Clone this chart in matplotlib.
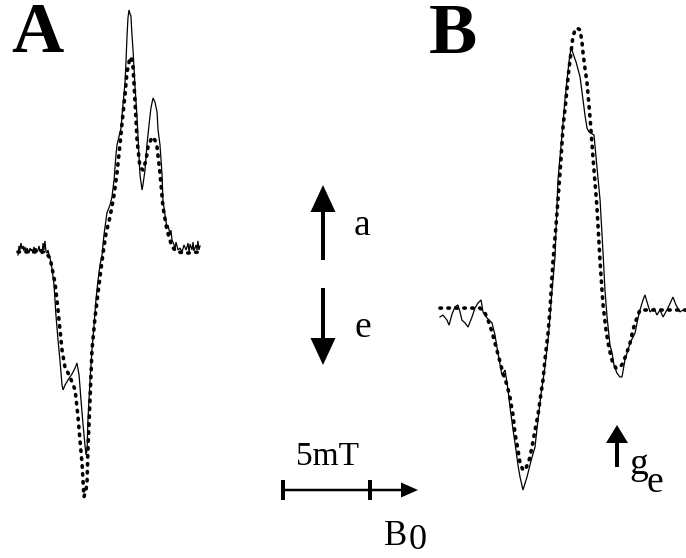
import matplotlib
matplotlib.use("Agg")
import matplotlib.pyplot as plt
from matplotlib.patches import FancyArrow, Rectangle

# ---------------- data (field in mT, intensity in a.u.) ----------------
A_exp_field = [0.00, 0.06, 0.11, 0.17, 0.23, 0.29, 0.34, 0.40, 0.46, 0.52, 0.57, 0.63, 0.69, 0.75,
               0.80, 0.86, 0.92, 0.98, 1.03, 1.09, 1.15, 1.21, 1.26, 1.32, 1.38, 1.44, 1.49, 1.55,
               1.61, 1.67, 1.72, 1.84, 1.95, 2.07, 2.18, 2.30, 2.41, 2.53, 2.59, 2.70, 2.87, 3.10,
               3.28, 3.39, 3.51, 3.62, 3.74, 3.85, 3.91, 3.97, 4.02, 4.14, 4.25, 4.37, 4.48, 4.60,
               4.71, 4.83, 4.94, 5.11, 5.29, 5.40, 5.52, 5.63, 5.69, 5.80, 5.92, 6.03, 6.15, 6.21,
               6.26, 6.32, 6.38, 6.44, 6.49, 6.55, 6.61, 6.72, 6.84, 6.95, 7.01, 7.13, 7.18, 7.30,
               7.41, 7.53, 7.64, 7.76, 7.87, 7.99, 8.05, 8.16, 8.28, 8.33, 8.45, 8.56, 8.62, 8.74,
               8.79, 8.85, 8.97, 9.02, 9.08, 9.20, 9.31, 9.43, 9.54, 9.66, 9.77, 9.83, 9.89, 10.00,
               10.06, 10.11, 10.23, 10.29, 10.34, 10.40, 10.46]
A_exp_int = [-2.1, 1.7, 0.0, 2.9, 0.4, 1.7, -0.4, 1.3, -0.8, 0.8, 0.0, -1.3, 0.8, -0.4,
             0.4, -1.3, 1.3, -0.4, 0.8, -0.8, 0.0, 1.7, -0.8, 0.4, -1.7, 2.9, 0.0, 3.8,
             -0.8, -1.3, 0.0, -3.3, -7.5, -14.6, -27.1, -37.5, -45.8, -56.3, -58.3, -56.3, -54.2, -51.7,
             -49.2, -47.1, -52.1, -62.5, -72.9, -81.3, -85.4, -83.3, -70.8, -54.2, -41.7, -31.3, -20.8, -12.5,
             -6.3, -2.1, 6.3, 15.4, 18.8, 22.1, 29.2, 39.6, 43.8, 47.1, 50.8, 60.4, 69.6, 79.2,
             88.3, 96.7, 100.0, 98.3, 97.5, 89.6, 83.3, 68.8, 55.4, 39.6, 31.3, 25.0, 27.1, 33.3,
             43.8, 52.1, 59.2, 63.3, 61.7, 57.5, 50.0, 43.8, 31.3, 20.8, 14.6, 9.2, 10.4, 6.3,
             8.3, 4.2, 2.1, 0.0, 3.3, 0.0, 0.8, -0.8, 2.1, 0.0, 2.9, -0.8, 2.5, 0.0,
             3.3, -0.4, 2.1, 0.0, 3.8, 0.0, 1.7]

A_sim_field = [0.00, 0.69, 1.55, 1.84, 2.13, 2.30, 2.53, 2.70, 2.99, 3.28, 3.45, 3.56, 3.68, 3.79,
               3.91, 3.97, 4.02, 4.14, 4.25, 4.43, 4.71, 4.89, 5.06, 5.29, 5.52, 5.69, 5.86, 5.98,
               6.15, 6.26, 6.44, 6.55, 6.61, 6.72, 6.84, 7.01, 7.18, 7.36, 7.47, 7.70, 7.87, 7.99,
               8.16, 8.33, 8.56, 8.85, 9.14, 9.71, 10.46]
A_sim_int = [-0.8, -0.8, -0.8, -3.3, -13.8, -25.0, -41.7, -48.8, -52.9, -58.3, -69.6, -79.2, -88.8, -102.9,
             -100.0, -96.3, -83.3, -62.5, -41.7, -27.9, -11.3, -1.3, 7.1, 13.8, 22.9, 32.1, 43.8, 52.9,
             64.6, 73.8, 80.4, 79.2, 76.3, 62.5, 45.8, 34.6, 33.3, 37.5, 42.9, 47.1, 45.8, 42.9,
             32.1, 17.9, 8.3, 1.3, -0.8, -1.3, -0.8]

B_exp_field = [0.00, 0.17, 0.40, 0.52, 0.69, 0.86, 1.03, 1.15, 1.26, 1.44, 1.61, 1.84, 2.01, 2.18,
               2.36, 2.47, 2.70, 2.99, 3.16, 3.33, 3.56, 3.74, 3.91, 4.02, 4.20, 4.31, 4.48, 4.60,
               4.77, 4.89, 5.00, 5.17, 5.29, 5.46, 5.63, 5.80, 6.03, 6.21, 6.32, 6.44, 6.61, 6.78,
               7.07, 7.18, 7.30, 7.41, 7.53, 7.64, 7.82, 8.05, 8.22, 8.33, 8.45, 8.56, 8.85, 9.02,
               9.20, 9.37, 9.48, 9.60, 9.77, 9.89, 10.00, 10.17, 10.34, 10.46, 10.63, 10.92, 11.21, 11.38,
               11.49, 11.67, 11.78, 11.90, 12.07, 12.30, 12.47, 12.64, 12.82, 13.10, 13.39, 13.56, 13.79, 13.97,
               14.14]
B_exp_int = [-2.9, -2.1, -4.2, -6.3, -1.7, 1.3, 2.1, -0.8, -4.2, -5.4, -7.1, -2.9, 0.8, 2.9,
             4.2, -0.8, -3.3, -5.4, -10.4, -17.9, -27.1, -25.0, -33.3, -40.4, -50.0, -55.4, -64.6, -69.6,
             -75.0, -72.1, -69.6, -64.6, -61.3, -57.1, -45.8, -35.4, -23.8, -12.5, -2.9, 8.3, 22.1, 54.2,
             77.9, 87.5, 95.8, 103.3, 109.2, 107.1, 103.3, 97.1, 87.5, 81.3, 75.8, 74.2, 72.9, 59.6,
             45.8, 23.8, 8.3, -2.9, -14.6, -17.9, -22.9, -26.3, -27.9, -27.9, -20.8, -13.8, -9.6, -3.3,
             0.0, 4.2, 6.3, 3.3, -0.8, 0.8, -2.1, 0.0, -2.9, 0.8, 5.4, 2.1, -0.8, 0.0,
             -0.4]

B_sim_field = [0.00, 1.15, 2.30, 2.59, 2.76, 2.99, 3.16, 3.39, 3.62, 3.85, 4.02, 4.20, 4.31, 4.48,
               4.60, 4.77, 4.89, 5.06, 5.17, 5.34, 5.46, 5.63, 5.75, 5.92, 6.03, 6.21, 6.32, 6.49,
               6.67, 6.78, 6.95, 7.07, 7.24, 7.36, 7.53, 7.64, 7.76, 7.87, 8.05, 8.16, 8.22, 8.33,
               8.45, 8.62, 8.79, 8.91, 9.02, 9.20, 9.31, 9.37, 9.54, 9.66, 9.83, 9.94, 10.11, 10.23,
               10.40, 10.52, 10.75, 10.92, 11.09, 11.21, 11.38, 11.49, 12.07, 14.14]
B_sim_int = [0.8, 0.8, 0.8, -1.3, -4.2, -9.2, -13.8, -20.0, -26.3, -31.3, -36.3, -43.8, -51.3, -58.3,
             -63.8, -66.7, -66.7, -63.8, -61.3, -55.0, -50.0, -43.8, -37.5, -29.2, -20.8, -9.6, 0.0, 20.0,
             35.4, 45.8, 62.5, 76.3, 87.5, 97.1, 107.5, 113.8, 116.7, 117.5, 116.7, 111.7, 107.1, 100.8,
             94.6, 80.4, 63.8, 52.9, 42.9, 20.0, 8.3, 2.1, -8.3, -13.8, -19.6, -22.1, -24.2, -24.2,
             -23.3, -22.1, -17.5, -13.8, -8.3, -5.4, -2.1, 0.0, 0.0, 0.0]

panel_labels = ["A", "B"]
scale_label = "5mT"
scale_mT = 5

# ---------------- layout ----------------
W, H = 686, 558
PX_PER_MT = 17.4
PX_PER_UNIT = 2.4
A_origin = (18, 250)   # pixel position of field 0 / intensity 0
B_origin = (440, 310)

fig = plt.figure(figsize=(W / 100, H / 100), dpi=100)
fig.patch.set_facecolor("white")

def panel_axes(origin):
    ax = fig.add_axes([0, 0, 1, 1])
    ax.set_xlim(-origin[0] / PX_PER_MT, (W - origin[0]) / PX_PER_MT)
    ax.set_ylim((origin[1] - H) / PX_PER_UNIT, origin[1] / PX_PER_UNIT)
    ax.axis("off")
    ax.patch.set_alpha(0)
    return ax

solid_kw = dict(color="black", lw=0.9, solid_joinstyle="miter")
dot_kw = dict(color="black", lw=2.6, linestyle=(0, (0.4, 1.8)), dash_capstyle="round")

axA = panel_axes(A_origin)
axA.plot(A_exp_field, A_exp_int, **solid_kw)
axA.plot(A_sim_field, A_sim_int, **dot_kw)

axB = panel_axes(B_origin)
axB.plot(B_exp_field, B_exp_int, **solid_kw)
axB.plot(B_sim_field, B_sim_int, **dot_kw)

# annotation overlay in pixel coordinates
ov = fig.add_axes([0, 0, 1, 1])
ov.set_xlim(0, W)
ov.set_ylim(H, 0)
ov.axis("off")
ov.patch.set_alpha(0)

serif = ["Liberation Serif", "DejaVu Serif"]

ov.text(11, 52, panel_labels[0], family=serif, weight="bold", fontsize=52, va="baseline", ha="left")
ov.text(429, 53, panel_labels[1], family=serif, weight="bold", fontsize=52, va="baseline", ha="left")

def arrow(x, y0, y1, head_len, head_w, shaft_w=4):
    ov.add_patch(FancyArrow(x, y0, 0, y1 - y0, width=shaft_w, head_width=head_w,
                            head_length=head_len, length_includes_head=True,
                            color="black", lw=0))

# absorption / emission arrows
arrow(323, 260, 185, 27, 25)
ov.text(354, 235, "a", family=serif, fontsize=27, va="baseline", ha="left")
arrow(323, 288, 365, 27, 25)
ov.text(354, 337, "e", family=serif, fontsize=27, va="baseline", ha="left")

# scale bar with B0 arrow
x_left = 283
x_mid = x_left + scale_mT * PX_PER_MT
ov.add_patch(FancyArrow(x_left, 490, 418 - x_left, 0, width=2.5, head_width=15,
                        head_length=17, length_includes_head=True, color="black", lw=0))
for xt in (x_left, x_mid):
    ov.add_patch(Rectangle((xt - 2, 480), 4, 20, color="black", lw=0))
ov.text(296, 465, scale_label, family=serif, fontsize=24, va="baseline", ha="left")
ov.text(384, 545, "B", family=serif, fontsize=25, va="baseline", ha="left")
ov.text(409, 557, "0", family=serif, fontsize=26, va="bottom", ha="left")

# g_e marker
arrow(617, 467, 425, 18, 22)
ov.text(629, 474, "g", family=serif, fontsize=27, va="baseline", ha="left")
ov.text(647, 492, "e", family=serif, fontsize=27, va="baseline", ha="left")

fig.savefig("out.png", dpi=100, facecolor="white")
